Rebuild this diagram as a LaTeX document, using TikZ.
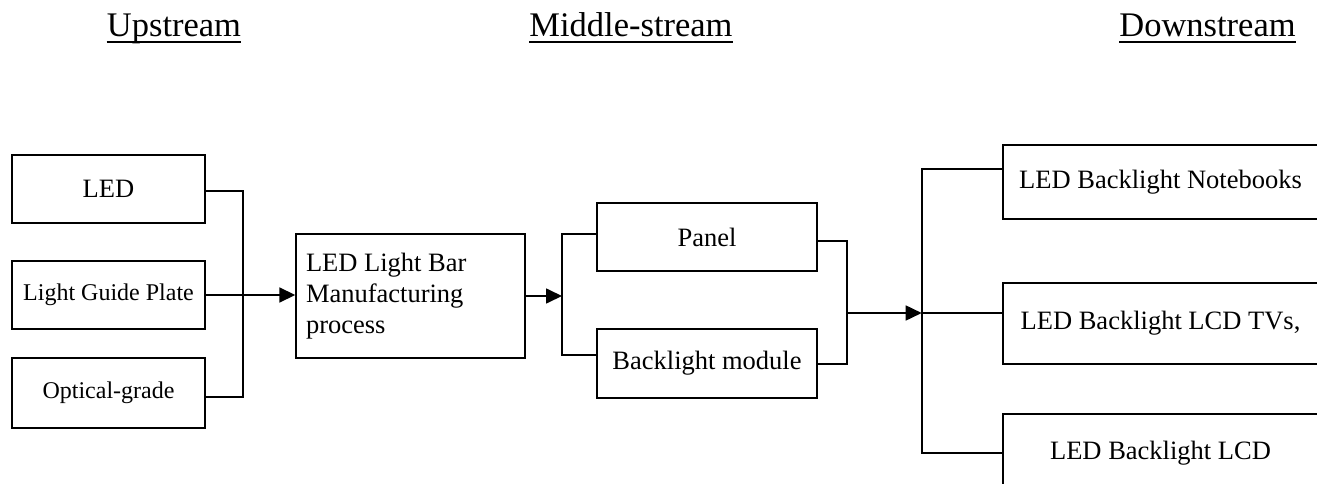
\documentclass[tikz,border=0pt]{standalone}
\usepackage{fontspec}
\setmainfont{Liberation Serif}
\usetikzlibrary{arrows.meta}
\begin{document}
\begin{tikzpicture}[x=1pt,y=-1pt,
  box/.style={draw, line width=1.4pt, inner sep=0pt, font=\fontsize{26.5}{30.8}\selectfont},
  smalltext/.style={font=\fontsize{24}{28}\selectfont},
  wire/.style={line width=1.7pt},
  arr/.style={wire, -{Triangle[length=16pt,width=15pt]}},
  head/.style={font=\fontsize{34.5}{40}\selectfont, anchor=base, inner sep=0pt},
  headrule/.style={line width=2.2pt}]
\useasboundingbox (0,0) rectangle (1317,484);
\clip (0,0) rectangle (1317,484);

% column headings
\node[head] (up) at (174,36.7) {Upstream};
\node[head] (mid) at (631,36.7) {Middle-stream};
\node[head] (down) at (1207.5,36.7) {Downstream};
\foreach \h in {up,mid,down}
  \draw[headrule] ([yshift=-5pt]\h.base west) -- ([yshift=-5pt]\h.base east);

% upstream materials
\node[box, minimum width=193pt, minimum height=68pt] (led) at (108.5,189) {LED};
\node[box, smalltext, minimum width=193pt, minimum height=68pt] (lgp) at (108.5,295) {Light Guide Plate};
\node[box, smalltext, minimum width=193pt, minimum height=70pt] (opt) at (108.5,393) {Optical-grade};

% light bar process
\node[box, minimum width=229pt, minimum height=124pt, text width=209pt, align=flush left] (bar) at (410.5,296)
  {LED Light Bar\\Manufacturing\\process};

% middle-stream parts
\node[box, minimum width=220pt, minimum height=68pt] (panel) at (707,237) {Panel};
\node[box, minimum width=220pt, minimum height=69pt] (bmod) at (707,363.5) {Backlight module};

% downstream products
\node[box, minimum width=315pt, minimum height=74pt] (nb) at (1160.5,182) {LED Backlight Notebooks};
\node[box, minimum width=315pt, minimum height=81pt] (tv) at (1160.5,323.5) {LED Backlight LCD TVs,};
\node[box, minimum width=315pt, minimum height=78pt] (lcd) at (1160.5,453) {LED Backlight LCD};

% junction points
\coordinate (s1) at (243,191);
\coordinate (s3) at (243,397);
\coordinate (m0) at (562,296);
\coordinate (m1) at (562,234);
\coordinate (m2) at (562,355);
\coordinate (r0) at (847,313);
\coordinate (r1) at (847,241);
\coordinate (r2) at (847,364);
\coordinate (d0) at (921.7,313);
\coordinate (d1) at (921.7,169);
\coordinate (d3) at (921.7,453);

% connectors
\draw[wire] (led.east |- s1) -- (s1) -- (s3) -- (opt.east |- s3);
\draw[arr] (lgp.east) -- (lgp.east -| bar.west);
\draw[arr] (bar.east) -- (m0);
\draw[wire] (panel.west |- m1) -- (m1) -- (m2) -- (bmod.west |- m2);
\draw[wire] (panel.east |- r1) -- (r1) -- (r2) -- (bmod.east |- r2);
\draw[wire] (d0) -- (tv.west |- d0);
\draw[arr] (r0) -- (d0);
\draw[wire] (nb.west |- d1) -- (d1) -- (d3) -- (lcd.west |- d3);
\end{tikzpicture}
\end{document}
